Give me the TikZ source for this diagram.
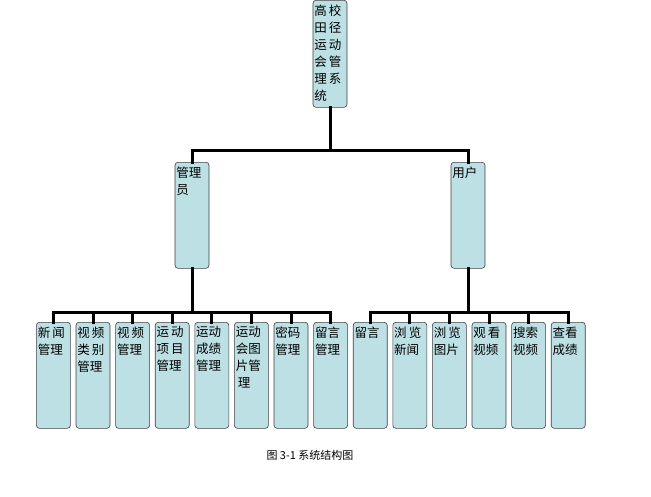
\documentclass[tikz,border=0pt]{standalone}
\usepackage{fontspec}
\setmainfont{Noto Sans CJK SC}
\begin{document}
\begin{tikzpicture}[x=1pt,y=-1pt,
  box/.style={draw=black!75,fill={rgb,255:red,189;green,224;blue,228},rounded corners=3pt,minimum width=34pt,minimum height=106pt,inner sep=0pt,anchor=north,line width=0.6pt},
  txt/.style={anchor=north west,inner sep=1.5pt,yshift=-3pt,align=left,font=\fontsize{12.5}{17}\selectfont},
  con/.style={line width=3pt,line cap=rect}]
\useasboundingbox (0,0) rectangle (651,496);
\node[box,minimum height=107pt] (top) at (330,0) {};
\node[txt] (ttop) at (top.north west) {高\,校\\田\,径\\运\,动\\会\,管\\理\,系\\统};
\node[box] (adm) at (192,162) {};
\node[txt] (tadm) at (adm.north west) {管理\\员};
\node[box] (usr) at (468,162) {};
\node[txt] (tusr) at (usr.north west) {用户};
\coordinate (j0) at (330,150);
\draw[con] (top.south) -- (j0);
\draw[con] (adm.north) |- (j0) -| (usr.north);
\foreach \i/\t in {0/{新\,闻\\管理},1/{视\,频\\类\,别\\管理},2/{视\,频\\管理},3/{运\,动\\项\,目\\管理},4/{运动\\成绩\\管理},5/{运动\\会图\\片管\\\,理},6/{密码\\管理},7/{留言\\管理},8/{留言},9/{浏\,览\\新闻},10/{浏\,览\\图片},11/{观\,看\\视频},12/{搜索\\视频},13/{查看\\成绩}}{
  \node[box] (b\i) at ({53.4+39.6*\i},322) {};
  \node[txt] (t\i) at (b\i.north west) {\t};
}
\coordinate (ja) at (192,312);
\coordinate (ju) at (468,312);
\draw[con] (adm.south) -- (ja);
\draw[con] (usr.south) -- (ju);
\foreach \i in {0,...,7}{\draw[con] (ja) -| (b\i.north);}
\foreach \i in {8,...,13}{\draw[con] (ju) -| (b\i.north);}
\node[font=\fontsize{11}{12}\selectfont] (cap) at (310,455) {图 3-1 系统结构图};
\end{tikzpicture}
\end{document}
